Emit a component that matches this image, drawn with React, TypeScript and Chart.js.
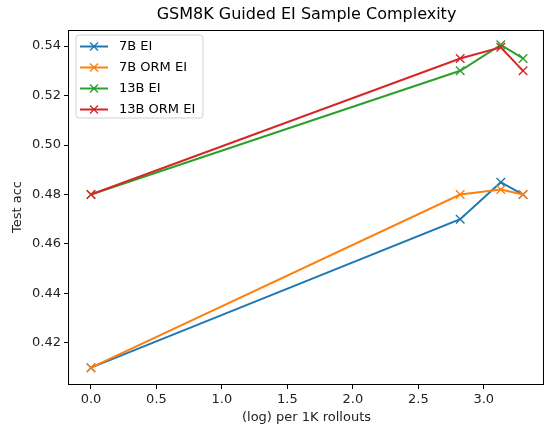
import React, { useEffect, useRef } from "react";
import { Chart, registerables } from "chart.js";
Chart.register(...registerables);

const xValues = [0, 2.82, 3.13, 3.3];
const seriesNames = ["7B EI", "7B ORM EI", "13B EI", "13B ORM EI"];
const s7bEI = [0.41, 0.47, 0.485, 0.48];
const s7bORM = [0.41, 0.48, 0.482, 0.48];
const s13bEI = [0.48, 0.53, 0.5405, 0.535];
const s13bORM = [0.48, 0.535, 0.5395, 0.53];
const colors = ["#1f77b4", "#ff7f0e", "#2ca02c", "#d62728"];
const xTicks = [0, 0.5, 1, 1.5, 2, 2.5, 3];
const yTicks = [0.42, 0.44, 0.46, 0.48, 0.5, 0.52, 0.54];
const titleText = "GSM8K Guided EI Sample Complexity";
const xLabel = "(log) per 1K rollouts";
const yLabel = "Test acc";

const FONT = "DejaVu Sans";

function drawX(ctx: CanvasRenderingContext2D, x: number, y: number, r: number, color: string) {
  ctx.save();
  ctx.strokeStyle = color;
  ctx.lineWidth = 1.4;
  ctx.beginPath();
  ctx.moveTo(x - r, y - r);
  ctx.lineTo(x + r, y + r);
  ctx.moveTo(x - r, y + r);
  ctx.lineTo(x + r, y - r);
  ctx.stroke();
  ctx.restore();
}

const decorPlugin = {
  id: "decor",
  afterDraw(chart: any) {
    const { ctx, chartArea } = chart;
    const { left, right, top, bottom } = chartArea;
    ctx.save();
    ctx.strokeStyle = "#000";
    ctx.lineWidth = 1;
    ctx.strokeRect(Math.round(left) - 0.5, Math.round(top) + 0.5, Math.round(right - left), Math.round(bottom - top));
    ctx.fillStyle = "#000";
    ctx.font = `16px ${FONT}`;
    ctx.textAlign = "center";
    ctx.textBaseline = "middle";
    ctx.fillText(titleText, (left + right) / 2, 15);
    const bx = 76, by = 35, bw = 127, bh = 83, rr = 3;
    ctx.beginPath();
    ctx.moveTo(bx + rr, by);
    ctx.lineTo(bx + bw - rr, by);
    ctx.quadraticCurveTo(bx + bw, by, bx + bw, by + rr);
    ctx.lineTo(bx + bw, by + bh - rr);
    ctx.quadraticCurveTo(bx + bw, by + bh, bx + bw - rr, by + bh);
    ctx.lineTo(bx + rr, by + bh);
    ctx.quadraticCurveTo(bx, by + bh, bx, by + bh - rr);
    ctx.lineTo(bx, by + rr);
    ctx.quadraticCurveTo(bx, by, bx + rr, by);
    ctx.closePath();
    ctx.fillStyle = "rgba(255,255,255,0.8)";
    ctx.fill();
    ctx.strokeStyle = "#d0d0d0";
    ctx.lineWidth = 1;
    ctx.stroke();
    ctx.font = `13px ${FONT}`;
    ctx.textAlign = "left";
    ctx.textBaseline = "middle";
    seriesNames.forEach((name, i) => {
      const y = 46.5 + i * 21;
      ctx.strokeStyle = colors[i];
      ctx.lineWidth = 2;
      ctx.beginPath();
      ctx.moveTo(80, y);
      ctx.lineTo(108, y);
      ctx.stroke();
      drawX(ctx, 94, y, 4, colors[i]);
      ctx.fillStyle = "#000";
      ctx.fillText(name, 119, y + 0.5);
    });
    ctx.restore();
  },
};

export default function App() {
  const ref = useRef<HTMLCanvasElement>(null);
  useEffect(() => {
    document.body.style.margin = "0";
    const all = [s7bEI, s7bORM, s13bEI, s13bORM];
    const chart = new Chart(ref.current!, {
      type: "line",
      data: {
        datasets: all.map((vals, i) => ({
          label: seriesNames[i],
          data: vals.map((v, j) => ({ x: xValues[j], y: v })),
          borderColor: colors[i],
          backgroundColor: colors[i],
          borderWidth: 2,
          pointStyle: "crossRot",
          pointRadius: 6,
          pointBorderWidth: 1.4,
          pointBorderColor: colors[i],
          order: 4 - i,
          tension: 0,
        })),
      },
      options: {
        animation: false,
        responsive: false,
        devicePixelRatio: 1,
        layout: { autoPadding: false, padding: { top: 30, right: 1, left: 0, bottom: 0 } },
        plugins: { legend: { display: false }, title: { display: false }, tooltip: { enabled: false } },
        scales: {
          x: {
            type: "linear",
            min: -0.168,
            max: 3.46,
            afterBuildTicks: (s: any) => { s.ticks = xTicks.map((v) => ({ value: v })); },
            afterFit: (s: any) => { s.height = 41; s.paddingLeft = 0; s.paddingRight = 0; },
            grid: { display: true, drawOnChartArea: false, drawTicks: true, tickLength: 5, color: "#000" },
            border: { display: false },
            ticks: {
              color: "#222",
              font: { family: FONT, size: 13 },
              padding: 3,
              maxRotation: 0,
              callback: (v: any) => Number(v).toFixed(1),
            },
            title: { display: true, text: xLabel, color: "#222", font: { family: FONT, size: 13 }, padding: { top: 0, bottom: 0 } },
          },
          y: {
            type: "linear",
            min: 0.4034,
            max: 0.5465,
            afterBuildTicks: (s: any) => { s.ticks = yTicks.map((v) => ({ value: v })); },
            afterFit: (s: any) => { s.width = 69; s.paddingTop = 0; s.paddingBottom = 0; },
            grid: { display: true, drawOnChartArea: false, drawTicks: true, tickLength: 5, color: "#000" },
            border: { display: false },
            ticks: {
              color: "#222",
              font: { family: FONT, size: 13 },
              padding: 3,
              callback: (v: any) => Number(v).toFixed(2),
            },
            title: { display: true, text: yLabel, color: "#222", font: { family: FONT, size: 13 }, padding: { top: 10, bottom: 4 } },
          },
        },
      },
      plugins: [decorPlugin],
    });
    return () => chart.destroy();
  }, []);
  return <canvas ref={ref} width={545} height={425} style={{ display: "block" }} />;
}
